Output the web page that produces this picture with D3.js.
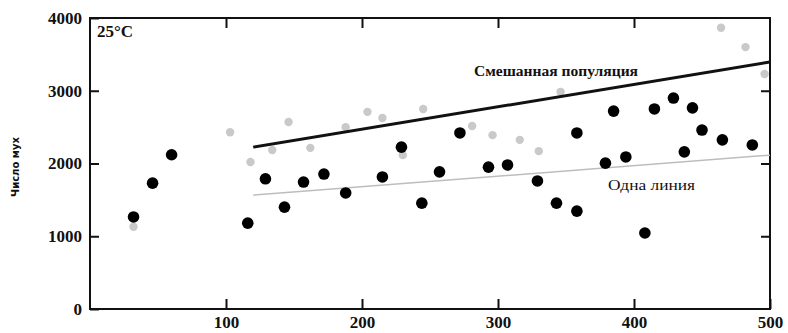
<!DOCTYPE html>
<html>
<head>
<meta charset="utf-8">
<script src="https://cdn.jsdelivr.net/npm/d3@7.9.0/dist/d3.min.js"></script>
<style>
  html, body { margin: 0; padding: 0; background: #fff; }
  svg { display: block; }
</style>
</head>
<body>
<div id="chart"></div>
<script>
// ── Data ──────────────────────────────────────────────────────────────────
var xTicks = [100, 200, 300, 400, 500];
var yTicks = [0, 1000, 2000, 3000, 4000];

// black dots
var mixedX = [32, 46, 60, 116, 129, 143, 157, 172, 188, 215, 229, 244, 257, 272, 293, 307,
              329, 343, 358, 358, 379, 385, 394, 408, 415, 429, 437, 443, 450, 465, 487];
var mixedY = [1265, 1730, 2120, 1180, 1790, 1400, 1745, 1855, 1595, 1815, 2225, 1455, 1885, 2420, 1950, 1980,
              1760, 1455, 1345, 2420, 2005, 2720, 2090, 1045, 2750, 2900, 2160, 2765, 2460, 2325, 2255];

// grey dots
var singleX = [32, 103, 118, 134, 146, 162, 188, 204, 215, 230, 245, 281, 296, 316, 330, 346, 464, 482, 496];
var singleY = [1130, 2430, 2020, 2185, 2570, 2215, 2500, 2710, 2625, 2115, 2750, 2515, 2390, 2325, 2170, 2985, 3865, 3600, 3230];

// regression lines [x0, x1], [y0, y1]
var mixedLineX = [120, 500], mixedLineY = [2225, 3395];
var singleLineX = [120, 500], singleLineY = [1565, 2115];

// ── Layout ────────────────────────────────────────────────────────────────
var W = 788, H = 333;
var L = 90, R = 770, T = 18, B = 309;

var x = d3.scaleLinear().domain([0, 500]).range([L, R]);
var y = d3.scaleLinear().domain([0, 4000]).range([B, T]);

var svg = d3.select("#chart").append("svg")
  .attr("width", W).attr("height", H);

var SERIF = "'Liberation Serif', 'DejaVu Serif', serif";

// frame
svg.append("rect")
  .attr("x", L).attr("y", T)
  .attr("width", R - L).attr("height", B - T)
  .attr("fill", "none").attr("stroke", "#111").attr("stroke-width", 2);

// axes: labels outside, ticks pointing inward
var xAxis = svg.append("g").attr("transform", "translate(0," + B + ")")
  .call(d3.axisBottom(x).tickValues(xTicks).tickSize(-10).tickPadding(8).tickFormat(d3.format("d")));
var xTop = svg.append("g").attr("transform", "translate(0," + T + ")")
  .call(d3.axisTop(x).tickValues(xTicks.slice(0, 4)).tickSize(-10).tickFormat(""));
var yAxis = svg.append("g").attr("transform", "translate(" + L + ",0)")
  .call(d3.axisLeft(y).tickValues(yTicks).tickSize(-9).tickPadding(8).tickFormat(d3.format("d")));
var yRight = svg.append("g").attr("transform", "translate(" + R + ",0)")
  .call(d3.axisRight(y).tickValues(yTicks.slice(1, 4)).tickSize(-9).tickFormat(""));

[xAxis, xTop, yAxis, yRight].forEach(function (g) {
  g.select(".domain").remove();
  g.selectAll(".tick line").attr("stroke", "#111").attr("stroke-width", 2);
  g.selectAll(".tick text")
    .attr("fill", "#111")
    .attr("font-family", SERIF)
    .attr("font-weight", "bold")
    .attr("font-size", "17px");
});
xAxis.selectAll(".tick text").attr("dy", "0.62em");

// y axis title
svg.append("text")
  .attr("transform", "translate(19,167) rotate(-90)")
  .attr("text-anchor", "middle")
  .attr("font-family", "'DejaVu Sans', sans-serif")
  .attr("font-weight", "bold")
  .attr("font-size", "10px")
  .attr("fill", "#111")
  .text("Число мух");

// panel label
svg.append("text")
  .attr("x", L + 7).attr("y", T + 19)
  .attr("font-family", SERIF)
  .attr("font-weight", "bold")
  .attr("font-size", "17px")
  .attr("fill", "#111")
  .text("25°C");

// grey dots
svg.append("g").selectAll("circle")
  .data(d3.range(singleX.length))
  .join("circle")
  .attr("cx", function (i) { return x(singleX[i]); })
  .attr("cy", function (i) { return y(singleY[i]); })
  .attr("r", 4.2)
  .attr("fill", "#c9c9c9");

// regression lines
var line = d3.line()
  .x(function (d) { return x(d[0]); })
  .y(function (d) { return y(d[1]); });

svg.append("path")
  .attr("d", line(d3.zip(singleLineX, singleLineY)))
  .attr("fill", "none").attr("stroke", "#bdbdbd").attr("stroke-width", 1.5);

svg.append("path")
  .attr("d", line(d3.zip(mixedLineX, mixedLineY)))
  .attr("fill", "none").attr("stroke", "#111").attr("stroke-width", 3);

// black dots
svg.append("g").selectAll("circle")
  .data(d3.range(mixedX.length))
  .join("circle")
  .attr("cx", function (i) { return x(mixedX[i]); })
  .attr("cy", function (i) { return y(mixedY[i]); })
  .attr("r", 5.8)
  .attr("fill", "#000");

// line labels
svg.append("text")
  .attr("x", 474).attr("y", 76)
  .attr("font-family", SERIF).attr("font-weight", "bold").attr("font-size", "14px")
  .attr("textLength", 164).attr("lengthAdjust", "spacingAndGlyphs")
  .attr("fill", "#111")
  .text("Смешанная популяция");

svg.append("text")
  .attr("x", 608).attr("y", 190)
  .attr("font-family", SERIF).attr("font-size", "14px")
  .attr("textLength", 87).attr("lengthAdjust", "spacingAndGlyphs")
  .attr("fill", "#111")
  .text("Одна линия");
</script>
</body>
</html>
